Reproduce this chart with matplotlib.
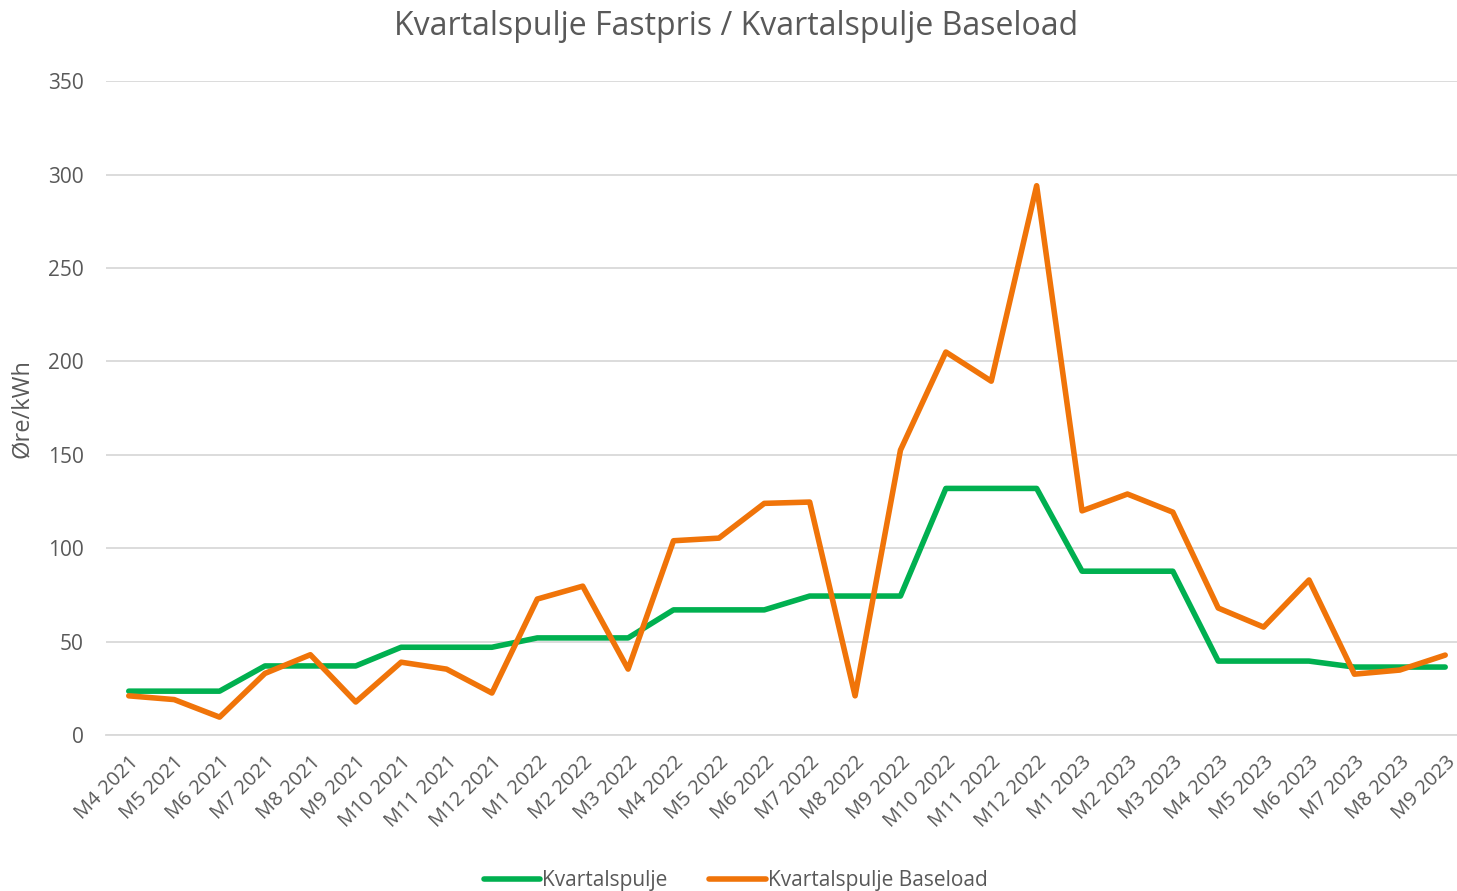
import matplotlib

matplotlib.use("Agg")
import matplotlib.pyplot as plt

months = [
    "M4 2021", "M5 2021", "M6 2021", "M7 2021", "M8 2021", "M9 2021",
    "M10 2021", "M11 2021", "M12 2021", "M1 2022", "M2 2022", "M3 2022",
    "M4 2022", "M5 2022", "M6 2022", "M7 2022", "M8 2022", "M9 2022",
    "M10 2022", "M11 2022", "M12 2022", "M1 2023", "M2 2023", "M3 2023",
    "M4 2023", "M5 2023", "M6 2023", "M7 2023", "M8 2023", "M9 2023",
]

fastpris = [
    23.5, 23.5, 23.5, 37, 37, 37,
    47, 47, 47, 52, 52, 52,
    67, 67, 67, 74.4, 74.4, 74.4,
    132, 132, 132, 87.7, 87.7, 87.7,
    39.6, 39.6, 39.6, 36.4, 36.4, 36.4,
]

baseload = [
    21, 19, 9.6, 33, 43, 17.7,
    39, 35.3, 22.5, 72.8, 79.7, 35.3,
    104, 105.4, 124, 124.7, 21, 152.5,
    205, 189.4, 294, 120, 129, 119.3,
    68, 57.8, 83, 32.6, 34.8, 42.8,
]

y_ticks = [0, 50, 100, 150, 200, 250, 300, 350]

TEXT = "#595959"
GREEN = "#00b050"
ORANGE = "#f07409"
GRID = "#d9d9d9"

plt.rcParams["font.family"] = ["Open Sans", "DejaVu Sans"]

fig = plt.figure(figsize=(14.57, 8.91), dpi=100, facecolor="white")
ax = fig.add_axes([0.0728, 0.175, 0.9272, 0.734])

x = list(range(len(months)))
ax.plot(x, fastpris, color=GREEN, linewidth=4, label="Kvartalspulje",
        solid_capstyle="round", solid_joinstyle="round", zorder=3)
ax.plot(x, baseload, color=ORANGE, linewidth=4, label="Kvartalspulje Baseload",
        solid_capstyle="round", solid_joinstyle="round", zorder=4)

ax.set_xlim(-0.5, 29.26)
ax.set_ylim(0, 350)
ax.set_yticks(y_ticks)
ax.set_yticklabels([str(v) for v in y_ticks], fontsize=15, color=TEXT)
ax.set_xticks(x)
ax.set_xticklabels(months, rotation=45, ha="right", rotation_mode="anchor",
                   fontsize=14.5, color=TEXT)
ax.tick_params(axis="y", length=0, pad=16)
ax.tick_params(axis="x", length=0, pad=12)
ax.grid(axis="y", color=GRID, linewidth=1.3)
ax.set_axisbelow(True)
for side in ["top", "right", "left"]:
    ax.spines[side].set_visible(False)
ax.spines["bottom"].set_color(GRID)
ax.spines["bottom"].set_linewidth(1.3)

ax.set_ylabel("Øre/kWh", fontsize=17, color=TEXT, labelpad=10)

fig.text(0.505, 0.97, "Kvartalspulje Fastpris / Kvartalspulje Baseload",
         ha="center", va="center", fontsize=23, color=TEXT)

fig.legend(loc="center", bbox_to_anchor=(0.505, 0.012), ncol=2, frameon=False,
           fontsize=15, labelcolor=TEXT, handlelength=2.7, handletextpad=0.1,
           columnspacing=2.0)

fig.savefig("out.png", dpi=100, facecolor="white")
